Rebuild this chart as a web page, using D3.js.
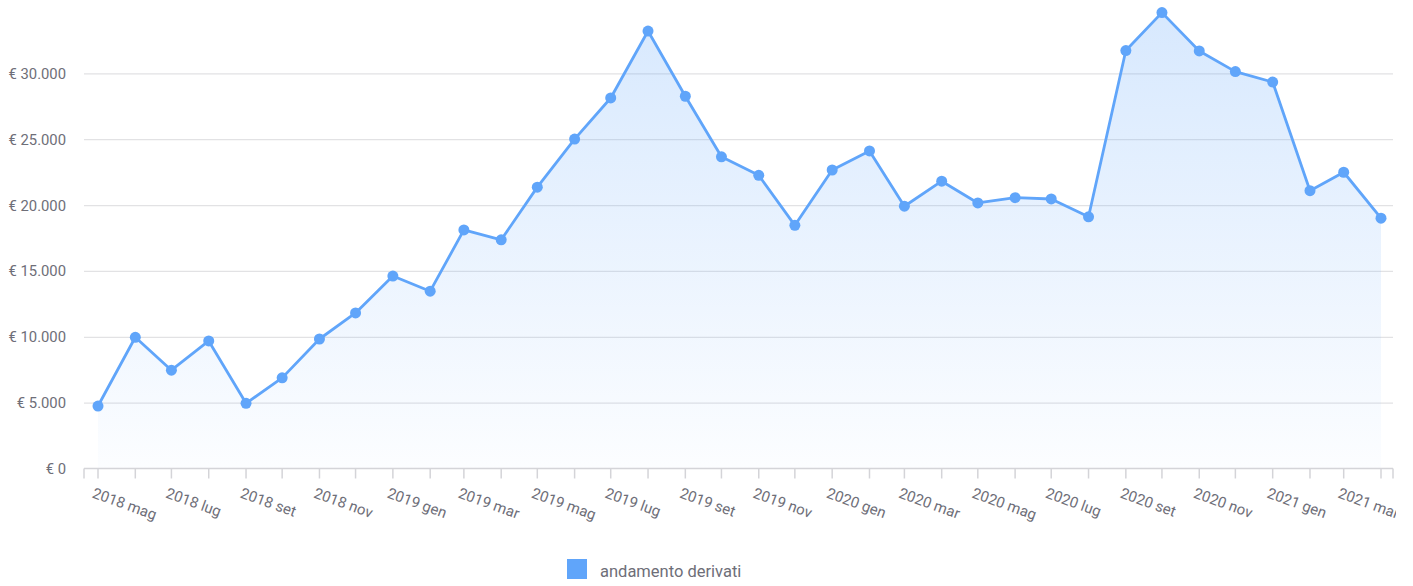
<!DOCTYPE html>
<html><head><meta charset="utf-8">
<script src="https://cdn.jsdelivr.net/npm/d3@7"></script>
<style>
html,body{margin:0;padding:0;background:#fff;}
svg{display:block;font-family:Roboto,"Noto Sans",sans-serif;}
</style></head>
<body><svg id="c" width="1413" height="586"></svg>
<script>
const months = ["2018-05","2018-06","2018-07","2018-08","2018-09","2018-10","2018-11","2018-12",
"2019-01","2019-02","2019-03","2019-04","2019-05","2019-06","2019-07","2019-08","2019-09","2019-10","2019-11","2019-12",
"2020-01","2020-02","2020-03","2020-04","2020-05","2020-06","2020-07","2020-08","2020-09","2020-10","2020-11","2020-12",
"2021-01","2021-02","2021-03","2021-04"];
const values = [4780,10000,7500,9720,4990,6920,9870,11850,
14650,13500,18150,17400,21400,25050,28170,33250,28300,23700,22300,18500,
22700,24150,19950,21850,20200,20600,20500,19150,31770,34650,31740,30170,
29380,21130,22530,19040];
const seriesName = "andamento derivati";
const yTicks = [0,5000,10000,15000,20000,25000,30000];
const monthNames = ["gen","feb","mar","apr","mag","giu","lug","ago","set","ott","nov","dic"];

const parse = d3.timeParse("%Y-%m");
const data = months.map((m,i)=>({date:parse(m), value:values[i]}));

const svg = d3.select("#c");
const color = "#60a5fa";
const plotLeft = 84, plotRight = 1393;

const x = d3.scaleTime().domain([data[0].date, data[data.length-1].date]).range([98,1381]);
const y = d3.scaleLinear().domain([0,35000]).range([469,8]);

const defs = svg.append("defs");
const grad = defs.append("linearGradient").attr("id","ag").attr("x1",0).attr("y1",0).attr("x2",0).attr("y2",1);
grad.append("stop").attr("offset","0%").attr("stop-color",color).attr("stop-opacity",0.25);
grad.append("stop").attr("offset","100%").attr("stop-color",color).attr("stop-opacity",0.02);
defs.append("clipPath").attr("id","lc").append("rect").attr("x",0).attr("y",470).attr("width",1396).attr("height",80);

// grid
svg.append("g").selectAll("line").data(yTicks.filter(d=>d>0)).join("line")
  .attr("x1",plotLeft).attr("x2",plotRight)
  .attr("y1",d=>y(d)).attr("y2",d=>y(d))
  .attr("stroke","#e2e2e4").attr("stroke-width",1.2);

// y labels
svg.append("g").selectAll("text").data(yTicks).join("text")
  .attr("x",66).attr("y",d=>y(d)+5)
  .attr("text-anchor","end").attr("font-size",14.8).attr("fill","#6e6e78")
  .text(d=>"€ " + (d===0 ? "0" : d3.format(",")(d).replace(/,/g,".")));

// area
const area = d3.area().x(d=>x(d.date)).y0(y(0)).y1(d=>y(d.value));
svg.append("path").datum(data).attr("d",area).attr("fill","url(#ag)");

// x axis
const axisY = y(0) - 0.5;
const xa = svg.append("g");
xa.append("line").attr("x1",plotLeft).attr("x2",plotRight).attr("y1",axisY).attr("y2",axisY)
  .attr("stroke","#d4d4d8").attr("stroke-width",1.5);
const tickXs = [plotLeft].concat(data.map(d=>x(d.date))).concat([plotRight]);
xa.selectAll("line.t").data(tickXs).join("line").attr("class","t")
  .attr("x1",d=>d).attr("x2",d=>d).attr("y1",axisY).attr("y2",axisY+10)
  .attr("stroke","#d4d4d8").attr("stroke-width",1.5);

const labelData = data.filter(d=>d.date.getMonth()%2===0);
svg.append("g").attr("clip-path","url(#lc)").selectAll("text").data(labelData).join("text")
  .attr("transform",d=>`translate(${x(d.date)-3},487) rotate(20)`)
  .attr("dy","0.72em")
  .attr("font-size",15).attr("fill","#6e6e78")
  .text(d=>d.date.getFullYear()+" "+monthNames[d.date.getMonth()]);

// line
const line = d3.line().x(d=>x(d.date)).y(d=>y(d.value));
svg.append("path").datum(data).attr("d",line).attr("fill","none")
  .attr("stroke",color).attr("stroke-width",2.8).attr("stroke-linejoin","round");

// markers
svg.append("g").selectAll("circle").data(data).join("circle")
  .attr("cx",d=>x(d.date)).attr("cy",d=>y(d.value)).attr("r",5.5).attr("fill",color);

// legend
const lg = svg.append("g").attr("transform","translate(567,559)");
lg.append("rect").attr("width",20).attr("height",20).attr("fill",color);
lg.append("text").attr("x",33).attr("y",18).attr("font-size",16.5).attr("fill","#6e6e78").text(seriesName);
</script></body></html>
